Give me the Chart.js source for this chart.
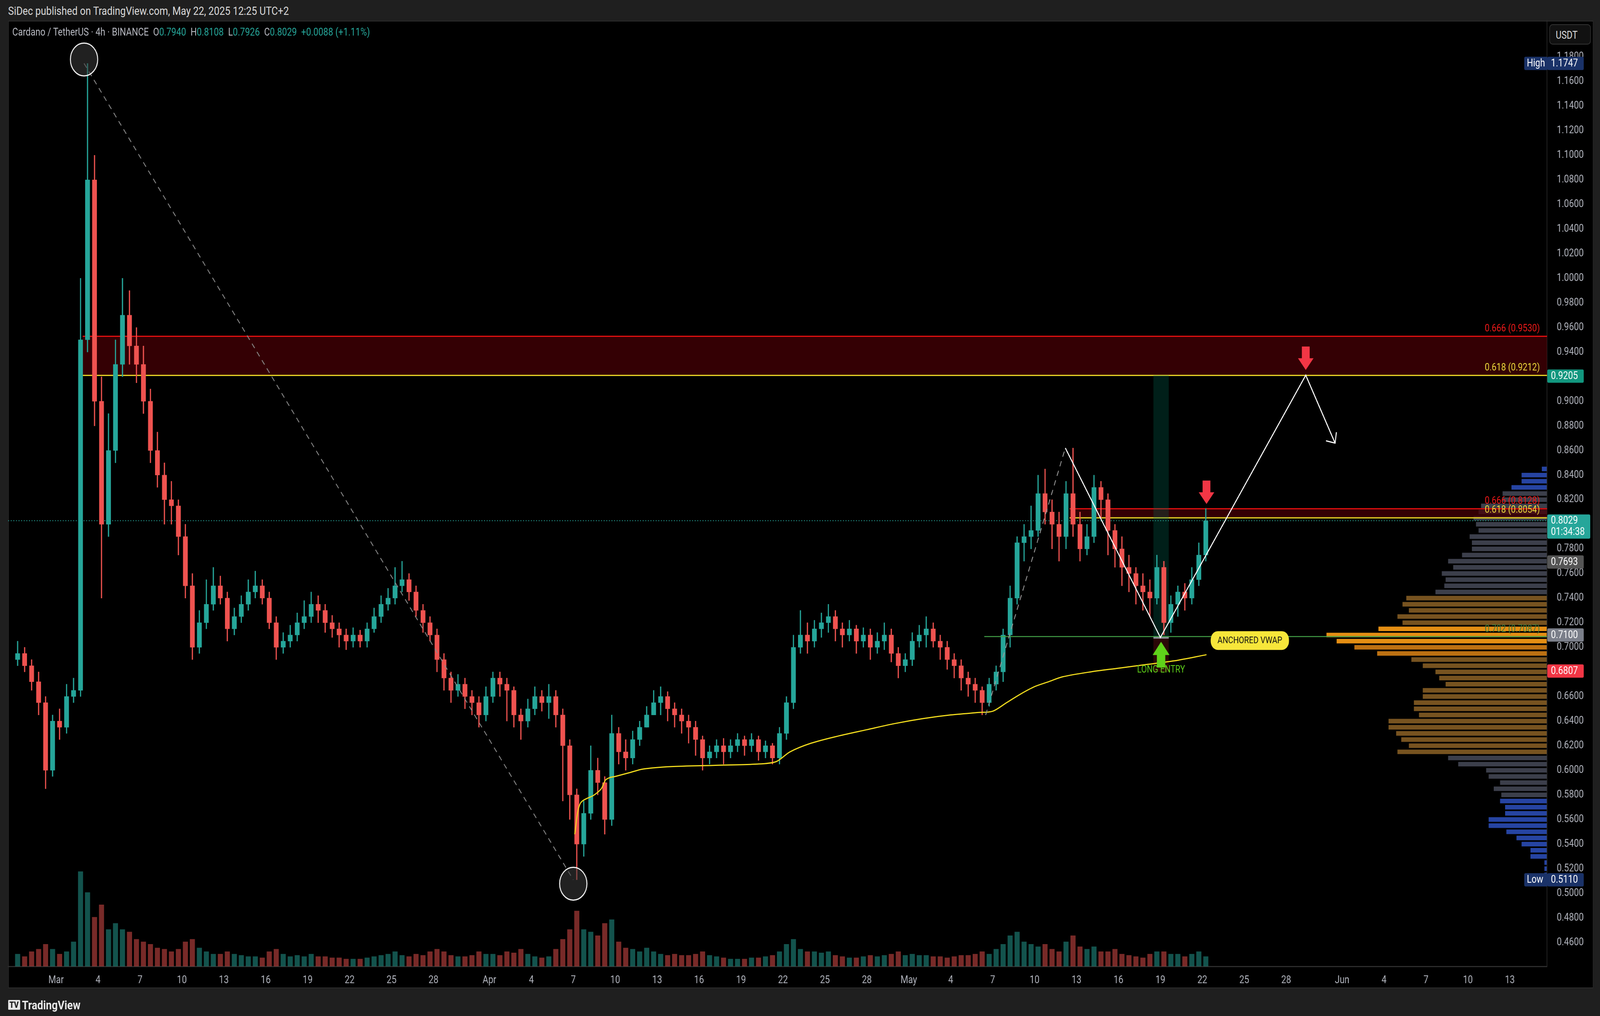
<!DOCTYPE html>
<html>
<head>
<meta charset="UTF-8">
<title>ADAUSDT 4h</title>
<script src="https://cdn.jsdelivr.net/npm/chart.js"></script>
<style>
  html, body { margin:0; padding:0; background:#1f1f1f; overflow:hidden; font-family:Roboto, "Noto Sans", sans-serif; }
  #page { position:absolute; left:0; top:0; width:4922px; height:2600px; transform-origin:0 0; background:#1f1f1f; }
  #frame { position:absolute; left:25px; top:53px; width:4877px; height:2476px; background:#000; border:2px solid #2c2c2c; box-sizing:border-box; }
  canvas { position:absolute; left:0; top:0; }
  #pub { position:absolute; left:25px; top:10px; color:#d8d8d8; font-size:30px; }
  #legend { position:absolute; left:38px; top:66px; color:#b8bac2; font-size:27px; z-index:5; }
  #legend span { color:#26a69a; }
  #usdt { position:absolute; left:4766px; top:62px; width:128px; height:52px; border:2px solid #333; border-radius:10px; background:#111; color:#ddd; font-size:27px; line-height:52px; padding-left:18px; box-sizing:border-box; z-index:5; }
  #logo { position:absolute; left:25px; top:2553px; color:#e8e8e8; font-size:32px; font-weight:bold; z-index:5; }
  #logo b { display:inline-block; background:#e8e8e8; color:#1f1f1f; font-size:22px; padding:0 4px; margin-right:6px; border-radius:2px; vertical-align:4px; }
</style>
</head>
<body>
<div id="page">
<div id="frame"></div>
<div id="pub">SiDec published on TradingView.com, May 22, 2025 12:25 UTC+2</div>
<div id="legend">Cardano / TetherUS · 4h · BINANCE &nbsp;O<span>0.7940</span> &nbsp;H<span>0.8108</span> &nbsp;L<span>0.7926</span> &nbsp;C<span>0.8029</span> &nbsp;<span>+0.0088 (+1.11%)</span></div>
<div id="usdt">USDT</div>
<div id="logo"><b>TV</b>TradingView</div>
<canvas id="profile" width="4922" height="2600" style="z-index:1"></canvas>
<canvas id="chart" width="4922" height="2600" style="z-index:2"></canvas>
</div>
<script>
// 12h candles starting Feb 26 (day -3 = Feb 26, day 0 = Mar 1)
const firstDay = -3;
const firstOpen = 0.690;
const closes = [
  0.695,0.685, 0.672,0.655, 0.600,0.640, 0.635,0.660, 0.665,0.950, 1.080,0.900, 0.800,0.860, 0.930,0.970,
  0.945,0.930, 0.900,0.860, 0.840,0.820, 0.815,0.790, 0.750,0.700, 0.720,0.735, 0.750,0.740, 0.715,0.725,
  0.735,0.745, 0.750,0.740, 0.720,0.700, 0.705,0.710, 0.720,0.725, 0.735,0.730, 0.720,0.715, 0.710,0.705,
  0.710,0.705, 0.715,0.725, 0.735,0.740, 0.750,0.755, 0.745,0.730, 0.720,0.710, 0.690,0.675, 0.665,0.670,
  0.660,0.655, 0.645,0.660, 0.675,0.670, 0.665,0.645, 0.640,0.650, 0.660,0.655, 0.660,0.645, 0.620,0.580,
  0.540,0.565, 0.600,0.590, 0.560,0.630, 0.615,0.610, 0.625,0.635, 0.645,0.655, 0.660,0.650, 0.645,0.640,
  0.635,0.625, 0.610,0.615, 0.620,0.615, 0.620,0.625, 0.620,0.625, 0.615,0.620, 0.610,0.630, 0.655,0.700,
  0.710,0.705, 0.715,0.720, 0.725,0.715, 0.710,0.715, 0.705,0.710, 0.700,0.705, 0.710,0.695, 0.685,0.690,
  0.705,0.710, 0.715,0.705, 0.700,0.690, 0.685,0.675, 0.670,0.665, 0.655,0.670, 0.680,0.710, 0.740,0.785,
  0.790,0.795, 0.825,0.810, 0.800,0.790, 0.825,0.800, 0.780,0.790, 0.830,0.820, 0.795,0.780, 0.765,0.760,
  0.750,0.745, 0.740,0.765, 0.720,0.735, 0.745,0.740, 0.755,0.775, 0.8029
];
const highs = [
  0.705,0.700, 0.690,0.680, 0.660,0.645, 0.650,0.670, 0.675,1.000, 1.1747,1.100, 0.920,0.890, 0.950,1.000,
  0.990,0.960, 0.945,0.910, 0.875,0.850, 0.835,0.820, 0.800,0.760, 0.730,0.755, 0.765,0.758, 0.745,0.732,
  0.742,0.755, 0.762,0.755, 0.745,0.725, 0.712,0.718, 0.728,0.738, 0.745,0.742, 0.735,0.726, 0.720,0.715,
  0.716,0.714, 0.720,0.732, 0.742,0.748, 0.765,0.770, 0.760,0.750, 0.735,0.725, 0.715,0.695, 0.680,0.678,
  0.675,0.665, 0.660,0.668, 0.680,0.680, 0.675,0.668, 0.650,0.658, 0.668,0.665, 0.670,0.665, 0.650,0.625,
  0.585,0.575, 0.620,0.610, 0.595,0.645, 0.635,0.625, 0.632,0.640, 0.652,0.665, 0.668,0.664, 0.655,0.650,
  0.645,0.640, 0.628,0.620, 0.625,0.626, 0.625,0.630, 0.628,0.630, 0.628,0.624, 0.622,0.635, 0.660,0.710,
  0.730,0.720, 0.722,0.728, 0.735,0.730, 0.720,0.722, 0.718,0.716, 0.715,0.712, 0.720,0.715, 0.700,0.695,
  0.712,0.718, 0.725,0.720, 0.710,0.705, 0.695,0.690, 0.680,0.675, 0.668,0.675, 0.685,0.715, 0.750,0.790,
  0.800,0.815, 0.840,0.845, 0.820,0.810, 0.835,0.862, 0.810,0.800, 0.840,0.835, 0.825,0.800, 0.790,0.775,
  0.765,0.760, 0.755,0.775, 0.770,0.742, 0.750,0.752, 0.765,0.785, 0.8128
];
const lows = [
  0.685,0.680, 0.665,0.645, 0.585,0.595, 0.625,0.630, 0.655,0.660, 0.940,0.880, 0.740,0.790, 0.850,0.920,
  0.930,0.915, 0.890,0.850, 0.830,0.800, 0.800,0.775, 0.740,0.690, 0.695,0.715, 0.730,0.735, 0.705,0.710,
  0.720,0.730, 0.740,0.735, 0.715,0.690, 0.695,0.700, 0.705,0.715, 0.720,0.720, 0.712,0.708, 0.700,0.698,
  0.700,0.700, 0.700,0.712, 0.720,0.730, 0.735,0.745, 0.738,0.725, 0.712,0.705, 0.680,0.665, 0.655,0.660,
  0.650,0.645, 0.635,0.640, 0.655,0.660, 0.640,0.635, 0.625,0.635, 0.645,0.648, 0.642,0.635, 0.575,0.560,
  0.511,0.530, 0.560,0.580, 0.548,0.555, 0.605,0.600, 0.605,0.620, 0.635,0.645, 0.645,0.640, 0.635,0.630,
  0.622,0.612, 0.600,0.605, 0.610,0.605, 0.610,0.615, 0.612,0.615, 0.608,0.610, 0.605,0.605, 0.625,0.650,
  0.695,0.695, 0.700,0.708, 0.712,0.705, 0.700,0.705, 0.695,0.700, 0.690,0.695, 0.698,0.688, 0.675,0.680,
  0.685,0.700, 0.700,0.700, 0.690,0.682, 0.675,0.665, 0.660,0.655, 0.645,0.652, 0.665,0.672, 0.700,0.735,
  0.770,0.780, 0.790,0.800, 0.780,0.770, 0.780,0.790, 0.770,0.775, 0.785,0.805, 0.775,0.765, 0.750,0.745,
  0.735,0.730, 0.725,0.735, 0.710,0.712, 0.725,0.730, 0.735,0.750, 0.770
];
const volumes = [
  10,8, 12,14, 18,14, 10,12, 20,77, 60,40, 50,30, 35,30, 28,22, 20,18, 15,14, 12,14, 20,22, 15,12, 10,10, 12,10,
  9,8, 8,7, 12,14, 10,8, 9,8, 10,8, 8,7, 7,6, 6,6, 7,8, 9,10, 12,9, 8,10, 9,12, 14,12, 9,8,
  8,9, 12,10, 10,9, 12,11, 14,10, 8,7, 8,14, 22,30, 45,30, 28,25, 35,38, 20,15, 14,12, 15,12, 10,9, 10,9,
  9,10, 12,9, 8,7, 6,6, 6,7, 7,8, 9,12, 18,22, 14,12, 12,11, 12,9, 8,7, 7,8, 9,8, 9,10, 12,9,
  10,9, 9,8, 8,7, 8,9, 9,10, 12,10, 14,18, 25,28, 20,18, 16,18, 14,12, 20,25, 16,14, 16,12, 12,14, 10,9,
  8,7, 10,12, 12,10, 10,8, 10,12, 8
];

// anchored VWAP from the Apr 7 low
const vwapDays = [37.1,37.5,38.5,39.0,39.3,39.6,40,41,42,44,47,50,51.5,52.5,54,56,58,60,62,64,66,67,68,69,70,71,72,74,76,78,80,82.3];
const vwapValues = [0.548,0.573,0.580,0.585,0.592,0.594,0.595,0.598,0.601,0.603,0.604,0.605,0.607,0.615,0.622,0.628,0.633,0.638,0.642,0.645,0.647,0.648,0.655,0.662,0.668,0.672,0.676,0.680,0.683,0.686,0.689,0.694];

// drawings
const trendDays = [2.0, 37.0];
const trendPrices = [1.1747, 0.511];
const impulseDays = [66.5, 72.2];
const impulsePrices = [0.645, 0.862];
const pathDays = [72.2, 79.0, 89.4, 91.5];
const pathPrices = [0.862, 0.708, 0.9212, 0.866];
const zoneStart = [1.9, 72.5];
const zoneTop = [0.9530, 0.8128];
const zoneBottom = [0.9212, 0.8054];
const fibTexts = ['0.666 (0.9530)', '0.618 (0.9212)', '0.666 (0.8128)', '0.618 (0.8054)', '0.702 (0.7087)'];
const fibPrices = [0.9530, 0.9212, 0.8128, 0.8054, 0.7087];
const fibColors = ['#f21a1a', '#f0dc3c', '#f21a1a', '#f0dc3c', '#3f7a3a'];
const entryLevel = 0.7087;
const entryStart = 66.4;
const lastPrice = 0.8029;

// x axis ticks (days from Mar 1)
const tickDays = [0,3,6,9,12,15,18,21,24,27,31,34,37,40,43,46,49,52,55,58,61,64,67,70,73,76,79,82,85,88,92,95,98,101,104];
const tickLabels = ['Mar','4','7','10','13','16','19','22','25','28','Apr','4','7','10','13','16','19','22','25','28','May','4','7','10','13','16','19','22','25','28','Jun','4','7','10','13'];
const priceTicks = [0.46,0.48,0.50,0.52,0.54,0.56,0.58,0.60,0.62,0.64,0.66,0.68,0.70,0.72,0.74,0.76,0.78,0.80,0.82,0.84,0.86,0.88,0.90,0.92,0.94,0.96,0.98,1.00,1.02,1.04,1.06,1.08,1.10,1.12,1.14,1.16,1.18];

// right axis tags
const tagPrices = [1.1747, 0.9205, 0.8029, 0.7693, 0.7100, 0.6807, 0.5110];
const tagTexts = ['1.1747', '0.9205', '0.8029', '0.7693', '0.7100', '0.6807', '0.5110'];
const tagColors = ['#1a3268', '#12977f', '#26a69a', '#555', '#7b7f8a', '#f23645', '#1a3268'];
const tagNames = ['High', '', '', '', '', '', 'Low'];

// volume profile rows
const vpPrices = [0.845,0.840,0.835,0.830,0.825,0.820,0.815,0.810,0.805,0.800,0.795,0.790,0.785,0.780,0.775,0.770,0.765,0.760,0.755,0.750,0.745,0.740,0.735,0.730,0.725,0.720,0.715,0.710,0.705,0.700,0.695,0.690,0.685,0.680,0.675,0.670,0.665,0.660,0.655,0.650,0.645,0.640,0.635,0.630,0.625,0.620,0.615,0.610,0.605,0.600,0.595,0.590,0.585,0.580,0.575,0.570,0.565,0.560,0.555,0.550,0.545,0.540,0.535,0.530,0.525,0.520,0.515];
const vpWidths = [20,100,100,140,175,175,260,270,290,280,270,305,296,296,335,390,370,415,400,405,440,555,570,545,590,570,665,870,830,760,670,535,490,440,425,400,490,490,525,525,505,625,625,595,575,545,590,390,350,240,230,185,210,180,185,165,165,230,230,160,120,100,65,65,10,10,10];

const Y_MIN = 0.4406, Y_MAX = 1.2094, X_MIN = -3.43, X_MAX = 106.66;
const UP = '#26a69a', DOWN = '#ef5350';

// stretch the 4922x2600 page over the whole window
const sx = window.innerWidth / 4922, sy = window.innerHeight / 2600;
document.getElementById('page').style.transform = 'scale(' + sx + ',' + sy + ')';
document.body.style.width = window.innerWidth + 'px';
document.body.style.height = window.innerHeight + 'px';

const opens = closes.map((c, i) => i === 0 ? firstOpen : closes[i - 1]);
const candleX = closes.map((c, i) => firstDay + 0.25 + i * 0.5);
const colorOf = i => closes[i] >= opens[i] ? UP : DOWN;

function pts(xs, ys) { return xs.map((x, i) => ({x: x, y: ys[i]})); }

function arrowDown(c, x, y, col) {
  c.fillStyle = col;
  c.beginPath();
  c.moveTo(x - 12, y - 60); c.lineTo(x + 12, y - 60); c.lineTo(x + 12, y - 30);
  c.lineTo(x + 24, y - 30); c.lineTo(x, y); c.lineTo(x - 24, y - 30); c.lineTo(x - 12, y - 30);
  c.closePath(); c.fill();
}
function arrowUp(c, x, y, col) {
  c.fillStyle = col;
  c.beginPath();
  c.moveTo(x, y); c.lineTo(x + 26, y + 34); c.lineTo(x + 13, y + 34); c.lineTo(x + 13, y + 66);
  c.lineTo(x - 13, y + 66); c.lineTo(x - 13, y + 34); c.lineTo(x - 26, y + 34);
  c.closePath(); c.fill();
}

const drawings = {
  id: 'drawings',
  beforeDatasetsDraw(chart) {
    const c = chart.ctx, a = chart.chartArea, xs = chart.scales.x, ys = chart.scales.y;
    c.save();
    zoneStart.forEach((d, i) => {
      const x0 = xs.getPixelForValue(d), y0 = ys.getPixelForValue(zoneTop[i]), y1 = ys.getPixelForValue(zoneBottom[i]);
      c.fillStyle = 'rgba(70,0,6,0.75)';
      c.fillRect(x0, y0, a.right - x0, y1 - y0);
      c.fillStyle = '#e81010'; c.fillRect(x0, y0 - 1, a.right - x0, 3);
      c.fillStyle = '#f0dc28'; c.fillRect(x0, y1 - 1, a.right - x0, 3);
    });
    // long entry band
    const bx0 = xs.getPixelForValue(78.5), bx1 = xs.getPixelForValue(79.6);
    const by0 = ys.getPixelForValue(0.9212), by1 = ys.getPixelForValue(0.708), by2 = ys.getPixelForValue(0.680);
    c.fillStyle = 'rgba(0,110,90,0.28)'; c.fillRect(bx0, by0, bx1 - bx0, by1 - by0);
    c.fillStyle = 'rgba(120,20,20,0.35)'; c.fillRect(bx0, by1, bx1 - bx0, by2 - by1);
    c.fillStyle = '#8a8f99'; c.fillRect(bx0, by1 - 2, bx1 - bx0, 5);
    // current price dotted line
    c.strokeStyle = '#26a69a'; c.lineWidth = 2; c.setLineDash([3, 5]);
    const yp = ys.getPixelForValue(lastPrice);
    c.beginPath(); c.moveTo(a.left, yp); c.lineTo(a.right, yp); c.stroke();
    c.restore();
  },
  afterDatasetsDraw(chart) {
    const c = chart.ctx, a = chart.chartArea, xs = chart.scales.x, ys = chart.scales.y;
    c.save();
    // circles at trend ends
    trendDays.forEach((d, i) => {
      c.beginPath();
      c.arc(xs.getPixelForValue(d), ys.getPixelForValue(trendPrices[i]) + (i === 0 ? -10 : 10), 42, 0, Math.PI * 2);
      c.fillStyle = 'rgba(60,60,60,0.55)'; c.fill();
      c.strokeStyle = '#f2f2f2'; c.lineWidth = 3; c.stroke();
    });
    // fib labels
    c.font = '26px Roboto'; c.textAlign = 'right'; c.textBaseline = 'bottom';
    fibTexts.forEach((t, i) => {
      c.fillStyle = fibColors[i];
      c.fillText(t, a.right - 22, ys.getPixelForValue(fibPrices[i]) - 6);
    });
    // arrows
    arrowDown(c, xs.getPixelForValue(82.3), ys.getPixelForValue(0.8165), '#f23645');
    arrowDown(c, xs.getPixelForValue(89.4), ys.getPixelForValue(0.9255), '#f23645');
    // path arrow head
    const hx = xs.getPixelForValue(pathDays[3]), hy = ys.getPixelForValue(pathPrices[3]);
    c.strokeStyle = '#ffffff'; c.lineWidth = 3;
    c.beginPath(); c.moveTo(hx - 28, hy - 6); c.lineTo(hx, hy); c.lineTo(hx + 4, hy - 28); c.stroke();
    // long entry
    const ex = xs.getPixelForValue(79.05);
    arrowUp(c, ex, ys.getPixelForValue(0.7045), '#5fd11a');
    c.font = '25px Roboto'; c.textAlign = 'center'; c.textBaseline = 'middle';
    c.fillStyle = '#5fd11a';
    c.fillText('LONG ENTRY', ex, ys.getPixelForValue(0.6815));
    // anchored vwap pill
    const px0 = xs.getPixelForValue(82.6), px1 = xs.getPixelForValue(88.2);
    const py = ys.getPixelForValue(0.7055);
    c.fillStyle = '#f7e63a';
    c.beginPath(); c.roundRect(px0, py - 24, px1 - px0, 48, 22); c.fill();
    c.fillStyle = '#111'; c.font = '24px Roboto';
    c.fillText('ANCHORED VWAP', (px0 + px1) / 2, py + 1);
    c.restore();
  },
  afterDraw(chart) {
    const c = chart.ctx, a = chart.chartArea, ys = chart.scales.y;
    c.save();
    c.font = '27px Roboto'; c.textBaseline = 'middle'; c.textAlign = 'left';
    tagPrices.forEach((p, i) => {
      const y = ys.getPixelForValue(p);
      const h = i === 2 ? 62 : 34;
      const top = i === 2 ? y - 16 : y - h / 2;
      c.fillStyle = tagColors[i];
      c.beginPath(); c.roundRect(a.right + 1, top, i === 2 ? 132 : 112, h, 4); c.fill();
      if (tagNames[i]) {
        c.beginPath(); c.roundRect(a.right - 70, top, 72, h, 4); c.fill();
        c.fillStyle = '#fff'; c.fillText(tagNames[i], a.right - 62, y + 1);
      }
      c.fillStyle = '#fff';
      c.fillText(tagTexts[i], a.right + 12, y + 1);
      if (i === 2) c.fillText('01:34:38', a.right + 12, y + 30);
    });
    c.restore();
  }
};

new Chart(document.getElementById('chart'), {
  type: 'bar',
  data: {
    datasets: [
      { type: 'line', label: 'trend', data: pts(trendDays, trendPrices), borderColor: '#8a8a8a', borderWidth: 2.5, borderDash: [14, 12], pointRadius: 0, order: 1 },
      { type: 'line', label: 'impulse', data: pts(impulseDays, impulsePrices), borderColor: '#9a9a9a', borderWidth: 2.5, borderDash: [14, 12], pointRadius: 0, order: 1 },
      { type: 'line', label: 'path', data: pts(pathDays, pathPrices), borderColor: '#ffffff', borderWidth: 3, pointRadius: 0, order: 1 },
      { type: 'line', label: 'entry', data: [{x: entryStart, y: entryLevel}, {x: X_MAX, y: entryLevel}], borderColor: '#43a047', borderWidth: 2.5, pointRadius: 0, order: 1 },
      { type: 'line', label: 'vwap', data: pts(vwapDays, vwapValues), borderColor: '#f2dc1e', borderWidth: 3, pointRadius: 0, tension: 0.3, order: 2 },
      { label: 'wicks', data: candleX.map((x, i) => ({x: x, y: [lows[i], highs[i]]})), backgroundColor: closes.map((c, i) => colorOf(i)), barThickness: 3, grouped: false, order: 3 },
      { label: 'bodies', data: candleX.map((x, i) => ({x: x, y: [opens[i], closes[i]]})), backgroundColor: closes.map((c, i) => colorOf(i)), barThickness: 14, minBarLength: 2, grouped: false, order: 3 },
      { label: 'volume', yAxisID: 'vol', data: candleX.map((x, i) => ({x: x, y: volumes[i]})), backgroundColor: closes.map((c, i) => closes[i] >= opens[i] ? 'rgba(38,166,154,0.5)' : 'rgba(239,83,80,0.5)'), barThickness: 15, grouped: false, order: 4 }
    ]
  },
  options: {
    responsive: false, animation: false, devicePixelRatio: 1,
    layout: { padding: { left: 25, top: 53, bottom: 71, right: 20 } },
    plugins: { legend: { display: false }, tooltip: { enabled: false } },
    scales: {
      x: {
        type: 'linear', min: X_MIN, max: X_MAX, offset: false,
        grid: { display: false }, border: { color: '#2c2c2c', width: 3 },
        afterBuildTicks: s => { s.ticks = tickDays.map(v => ({ value: v })); },
        afterFit: s => { s.height = 56; },
        ticks: { color: '#b2b5be', font: { size: 27, family: 'Roboto' }, autoSkip: false, maxRotation: 0, padding: 12,
          callback: v => tickLabels[tickDays.indexOf(v)] }
      },
      y: {
        position: 'right', min: Y_MIN, max: Y_MAX,
        grid: { display: false }, border: { color: '#2c2c2c', width: 2 },
        afterBuildTicks: s => { s.ticks = priceTicks.map(v => ({ value: v })); },
        afterFit: s => { s.width = 143; },
        ticks: { color: '#b2b5be', font: { size: 27, family: 'Roboto' }, padding: 22, callback: v => v.toFixed(4) }
      },
      vol: { display: false, min: 0, max: 768 }
    }
  },
  plugins: [drawings]
});

const vpColor = p => {
  if (p >= 0.705 && p <= 0.715) return 'rgba(240,150,20,0.95)';
  if (p >= 0.695 && p < 0.705) return 'rgba(210,125,20,0.9)';
  if (p >= 0.615 && p <= 0.74) return 'rgba(140,98,38,0.85)';
  if (p >= 0.83 || p <= 0.575) return 'rgba(45,80,190,0.85)';
  return 'rgba(70,74,88,0.85)';
};

new Chart(document.getElementById('profile'), {
  type: 'bar',
  data: { datasets: [{ data: vpPrices.map((p, i) => ({ x: vpWidths[i], y: p })), backgroundColor: vpPrices.map(vpColor), barThickness: 11 }] },
  options: {
    indexAxis: 'y', responsive: false, animation: false, devicePixelRatio: 1,
    layout: { padding: { left: 25, top: 53, bottom: 127, right: 163 } },
    plugins: { legend: { display: false }, tooltip: { enabled: false } },
    scales: {
      x: { type: 'linear', display: false, reverse: true, min: 0, max: 6074 },
      y: { type: 'linear', display: false, min: Y_MIN, max: Y_MAX, offset: false }
    }
  }
});
</script>
</body>
</html>
